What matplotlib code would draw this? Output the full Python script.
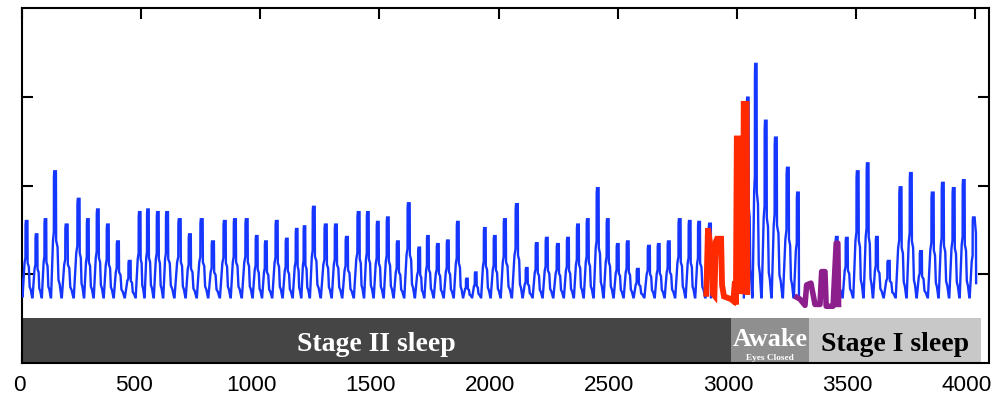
import matplotlib
matplotlib.use('Agg')
import matplotlib.pyplot as plt

# ---------------- data ----------------
# blue trace, segment A (Stage II sleep): peak times and peak values
seg_a_t = [20, 62, 99, 139, 188, 239, 277, 319, 361, 403, 453, 495, 529, 571, 609,
           663, 705, 755, 802, 852, 894, 944, 986, 1024, 1070, 1112, 1154, 1186, 1225,
           1276, 1318, 1364, 1414, 1452, 1494, 1536, 1578, 1624, 1668, 1704, 1746, 1788,
           1830, 1868, 1905, 1943, 1985, 2027, 2078, 2119, 2161, 2203, 2250, 2292, 2334,
           2375, 2417, 2459, 2501, 2543, 2585, 2632, 2673, 2715, 2761, 2803, 2842, 2888]
seg_a_p = [1.60, 1.45, 1.62, 2.16, 1.56, 1.85, 1.62, 1.73, 1.56, 1.37, 1.15, 1.70, 1.73, 1.70, 1.70,
           1.62, 1.45, 1.62, 1.37, 1.60, 1.62, 1.62, 1.43, 1.37, 1.60, 1.40, 1.51, 1.54, 1.76,
           1.56, 1.56, 1.42, 1.70, 1.70, 1.59, 1.64, 1.37, 1.80, 1.30, 1.43, 1.34, 1.38,
           1.59, 0.95, 1.02, 1.52, 1.43, 1.62, 1.79, 1.07, 1.35, 1.41, 1.34, 1.41, 1.56,
           1.62, 1.97, 1.62, 1.34, 1.37, 1.06, 1.32, 1.34, 1.37, 1.62, 1.60, 1.59, 1.57]
# blue trace, segment B (after eyes-closed awake)
seg_b_t = [3047, 3080, 3122, 3164, 3215, 3257]
seg_b_p = [2.99, 3.37, 2.73, 2.54, 2.20, 1.92]
# blue trace, segment C (Stage I sleep)
seg_c_t = [3420, 3462, 3508, 3550, 3588, 3638, 3688, 3731, 3773, 3823, 3865, 3911, 3953, 3995]
seg_c_p = [1.42, 1.41, 2.16, 2.25, 1.42, 1.15, 1.98, 2.14, 1.26, 1.92, 2.03, 1.97, 2.06, 1.64]
baseline = 0.74
trace_start_v = 0.93
trace_end_v = 0.90

# red trace (awake, eyes closed)
red_t = [2872, 2879, 2890, 2896, 2900, 2906, 2912, 2917, 2934, 2938, 2946, 2975,
         2985, 2992, 2996, 3000, 3017, 3019, 3026, 3029, 3041, 3044]
red_v = [0.78, 1.52, 1.30, 1.26, 0.78, 0.76, 1.37, 1.40, 1.40, 0.88, 0.75, 0.72,
         0.70, 0.92, 0.66, 2.53, 2.53, 0.78, 0.85, 2.92, 2.92, 0.80]

# purple trace (start of Stage I)
purple_t = [3252, 3265, 3286, 3293, 3311, 3328, 3349, 3356, 3370, 3375, 3404, 3417, 3424, 3427]
purple_v = [0.74, 0.72, 0.65, 0.88, 0.90, 0.66, 0.66, 1.03, 1.03, 0.64, 0.64, 1.35, 1.35, 0.66]

# sleep stage bars
stage_labels = ['Stage II sleep', 'Awake', 'Stage I sleep']
stage_start = [0, 2976, 3303]
stage_end = [2976, 3303, 4025]
stage_sub = ['', 'Eyes Closed', '']

xticks = [0, 500, 1000, 1500, 2000, 2500, 3000, 3500, 4000]
xtick_labels = ['0', '500', '1000', '1500', '2000', '2500', '3000', '3500', '4000']
yticks = [1, 2, 3]


def build_cycles(ts, ps, base, start_v=None, end=None, end_v=None):
    xs, ys = [], []
    n = len(ts)
    if start_v is not None:
        xs.append(0); ys.append(start_v)
    for i, (t, p) in enumerate(zip(ts, ps)):
        pl = t - ts[i - 1] if i > 0 else 42
        pr = ts[i + 1] - t if i < n - 1 else 42
        a = p - base
        pts = [(t - 0.42 * pl, base), (t - 0.22 * pl, base + 0.45 * a),
               (t - 0.13 * pl, base + 0.52 * a), (t - 0.12 * pl, base + 0.95 * a),
               (t - 0.09 * pl, p), (t + 0.07 * pr, p)]
        if i == n - 1 and end == 'drop':
            pts += [(t + 0.09 * pr, base)]
        elif i == n - 1 and end == 'cut':
            pts += [(t + 0.20 * pr, base + 0.8 * a), (t + 0.22 * pr, end_v)]
        else:
            pts += [(t + 0.09 * pr, base + 0.45 * a), (t + 0.21 * pr, base + 0.40 * a),
                    (t + 0.29 * pr, base + 0.14 * a), (t + 0.40 * pr, base + 0.10 * a),
                    (t + 0.54 * pr, base)]
        for x, y in pts:
            xs.append(x); ys.append(y)
    return xs, ys


fig = plt.figure(figsize=(9.94, 3.99), dpi=100)
ax = fig.add_axes([0.0221, 0.0902, 0.9728, 0.8897])

blue = '#1436ff'
ax_x, ax_y = build_cycles(seg_a_t, seg_a_p, baseline, start_v=trace_start_v, end='drop')
bx_x, bx_y = build_cycles(seg_b_t, seg_b_p, baseline, end='drop')
cx_x, cx_y = build_cycles(seg_c_t, seg_c_p, baseline, end='cut', end_v=trace_end_v)
for xs, ys in [(ax_x, ax_y), (bx_x, bx_y), (cx_x, cx_y)]:
    ax.plot(xs, ys, color=blue, lw=1.7, zorder=3, solid_joinstyle='miter')

ax.plot(red_t, red_v, color='#ff2a00', lw=4.2, zorder=4, solid_joinstyle='miter')
ax.plot(purple_t, purple_v, color='#8c1f8c', lw=4.0, zorder=4, solid_joinstyle='round')

# stage bars
bar_colors = ['#454545', '#8f8f8f', '#c8c8c8']
widths = [e - s for s, e in zip(stage_start, stage_end)]
ax.bar(stage_start, [0.51] * 3, width=widths, bottom=0, align='edge',
       color=bar_colors, edgecolor='none', zorder=2)

serif = ['Liberation Serif', 'DejaVu Serif']
cx = [(s + e) / 2 for s, e in zip(stage_start, stage_end)]
ax.text(cx[0], 0.13, stage_labels[0], color='white', fontsize=20, fontweight='bold',
        family=serif, ha='center', va='baseline', zorder=5)
ax.text(cx[1], 0.19, stage_labels[1], color='white', fontsize=18.8, fontweight='bold',
        family=serif, ha='center', va='baseline', zorder=5)
ax.text(cx[1], 0.03, stage_sub[1], color='white', fontsize=6.7, fontweight='bold',
        family=serif, ha='center', va='baseline', zorder=5)
ax.text(cx[2], 0.13, stage_labels[2], color='black', fontsize=20, fontweight='bold',
        family=serif, ha='center', va='baseline', zorder=5)

ax.set_xlim(0, 4058)
ax.set_ylim(0, 4.0)
ax.set_xticks(xticks)
ax.set_xticklabels([])
ax.set_yticks(yticks)
ax.set_yticklabels([])
ax.tick_params(axis='both', direction='in', length=8, width=1.5,
               top=True, right=True)
# tick labels, slightly shifted left as in the reference
for xv, lab in zip(xticks, xtick_labels):
    ax.annotate(lab, xy=(xv, 0), xycoords=('data', 'axes fraction'),
                xytext=(-1.6 * len(lab), -8.5), textcoords='offset points',
                ha='center', va='top', fontsize=16.2,
                family=['Liberation Sans', 'DejaVu Sans'], annotation_clip=False)
for sp in ax.spines.values():
    sp.set_linewidth(1.5)

fig.savefig('out.png', dpi=100)
